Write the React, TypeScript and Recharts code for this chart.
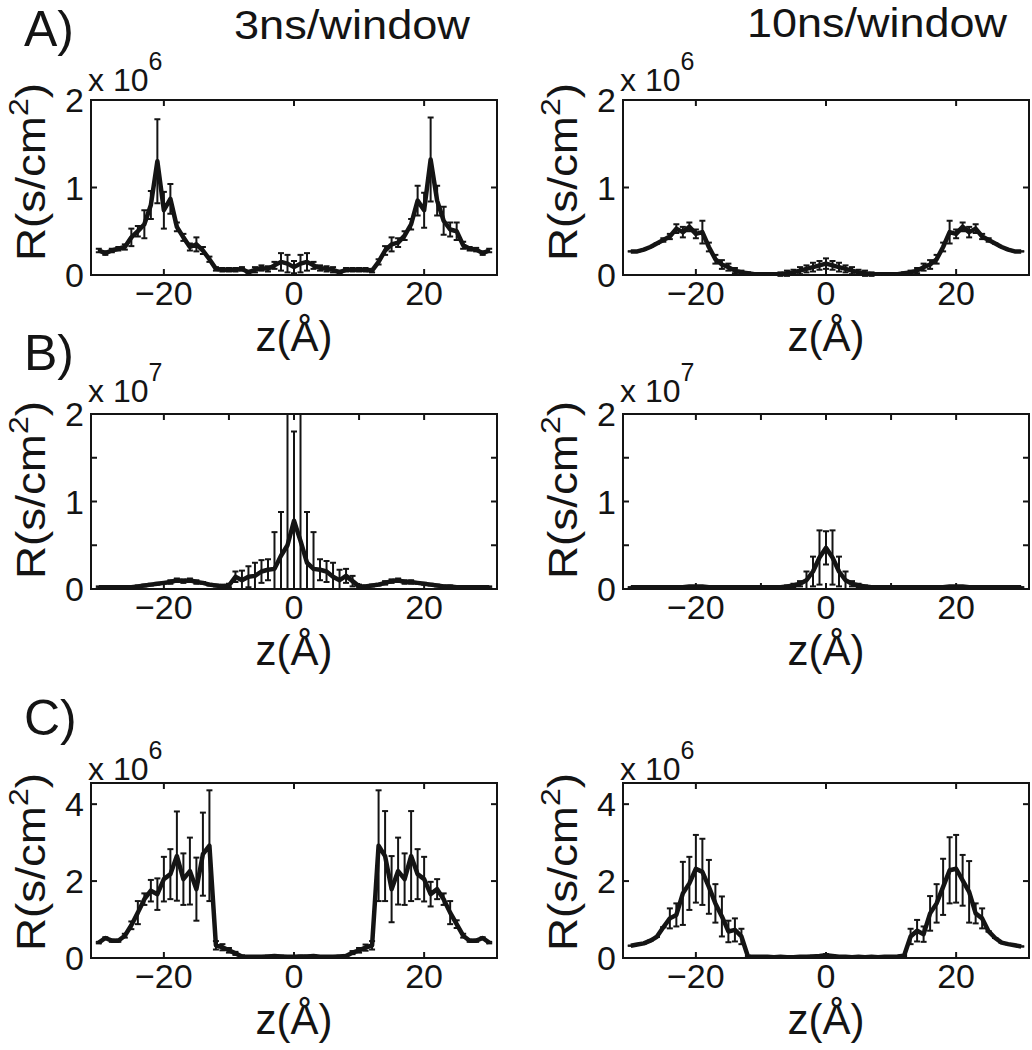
import React from 'react';
import { LineChart, Line, XAxis, YAxis, ErrorBar, ReferenceArea, ReferenceLine } from 'recharts';

const FONT = '"Liberation Sans", Arial, Helvetica, sans-serif';
const INK = '#141414';

// z positions (Å)
const Z = [-30,-29,-28,-27,-26,-25,-24,-23,-22,-21,-20,-19,-18,-17,-16,-15,-14,-13,-12,-11,-10,-9,-8,-7,-6,-5,-4,-3,-2,-1,0,1,2,3,4,5,6,7,8,9,10,11,12,13,14,15,16,17,18,19,20,21,22,23,24,25,26,27,28,29,30];

// A) 3ns/window  (x 10^6)
const A3_R = [0.28,0.25,0.28,0.30,0.32,0.43,0.50,0.58,0.80,1.30,0.74,0.87,0.55,0.43,0.32,0.35,0.28,0.18,0.07,0.06,0.06,0.06,0.07,0.03,0.06,0.08,0.07,0.11,0.15,0.13,0.09,0.13,0.15,0.11,0.08,0.07,0.06,0.03,0.06,0.06,0.06,0.06,0.05,0.15,0.28,0.35,0.37,0.45,0.58,0.85,0.74,1.32,0.85,0.62,0.52,0.50,0.34,0.30,0.29,0.25,0.28];
const A3_E = [0.02,0.02,0.02,0.02,0.03,0.10,0.06,0.16,0.16,0.48,0.21,0.17,0.05,0.04,0.04,0.08,0.04,0.03,0.02,0.02,0.02,0.02,0.02,0.02,0.03,0.03,0.03,0.04,0.10,0.10,0.07,0.10,0.10,0.04,0.03,0.03,0.03,0.02,0.02,0.02,0.02,0.02,0.02,0.03,0.05,0.08,0.05,0.05,0.06,0.17,0.20,0.48,0.17,0.16,0.08,0.10,0.04,0.02,0.02,0.02,0.02];

// A) 10ns/window (x 10^6)
const A10_R = [0.27,0.27,0.29,0.32,0.36,0.40,0.44,0.53,0.49,0.55,0.47,0.49,0.32,0.18,0.12,0.09,0.05,0.03,0.02,0.01,0.01,0.01,0.01,0.01,0.02,0.03,0.05,0.07,0.09,0.11,0.13,0.11,0.09,0.07,0.05,0.03,0.02,0.01,0.01,0.01,0.01,0.01,0.02,0.03,0.05,0.09,0.12,0.18,0.32,0.49,0.47,0.55,0.49,0.53,0.44,0.40,0.36,0.32,0.29,0.27,0.27];
const A10_E = [0,0,0,0,0,0.02,0.03,0.05,0.06,0.05,0.05,0.13,0.05,0.05,0.05,0.04,0.03,0.02,0.01,0.01,0.01,0.01,0.01,0.02,0.03,0.03,0.04,0.04,0.05,0.05,0.06,0.05,0.05,0.04,0.04,0.03,0.03,0.02,0.01,0.01,0.01,0.01,0.01,0.02,0.03,0.04,0.05,0.05,0.05,0.13,0.05,0.05,0.06,0.05,0.03,0.02,0,0,0,0,0];

// B) 3ns/window (x 10^7); error bars as drawn: lower and upper extents
const B3_R = [0.02,0.02,0.02,0.02,0.02,0.02,0.03,0.04,0.05,0.06,0.07,0.08,0.10,0.09,0.10,0.08,0.07,0.05,0.04,0.03,0.04,0.14,0.10,0.14,0.15,0.20,0.22,0.23,0.38,0.50,0.78,0.55,0.30,0.23,0.22,0.20,0.14,0.10,0.15,0.09,0.03,0.03,0.04,0.05,0.07,0.09,0.10,0.08,0.08,0.07,0.06,0.05,0.04,0.03,0.03,0.02,0.02,0.02,0.02,0.02,0.02];
const B3_ELO = [0.01,0.01,0.01,0.01,0.01,0.01,0.01,0.01,0.01,0.01,0.01,0.02,0.02,0.02,0.02,0.02,0.01,0.01,0.01,0.02,0.02,0.06,0.10,0.12,0.15,0.13,0.12,0.23,0.38,0.50,0.78,0.55,0.30,0.23,0.12,0.12,0.14,0.10,0.08,0.06,0.02,0.01,0.01,0.01,0.02,0.02,0.02,0.02,0.02,0.01,0.01,0.01,0.01,0.01,0.01,0.01,0.01,0.01,0.01,0.01,0.01];
const B3_EHI = [0.01,0.01,0.01,0.01,0.01,0.01,0.01,0.01,0.01,0.01,0.01,0.02,0.02,0.02,0.02,0.02,0.01,0.01,0.01,0.02,0.02,0.06,0.11,0.12,0.15,0.13,0.12,0.42,0.50,1.50,1.02,1.45,0.58,0.42,0.12,0.12,0.16,0.12,0.08,0.06,0.02,0.01,0.01,0.01,0.02,0.02,0.02,0.02,0.02,0.01,0.01,0.01,0.01,0.01,0.01,0.01,0.01,0.01,0.01,0.01,0.01];

// B) 10ns/window (x 10^7)
const B10_R = [0.02,0.02,0.02,0.02,0.02,0.02,0.02,0.02,0.02,0.03,0.03,0.03,0.02,0.02,0.02,0.02,0.02,0.02,0.02,0.02,0.02,0.02,0.02,0.02,0.03,0.04,0.06,0.10,0.20,0.36,0.47,0.36,0.20,0.10,0.06,0.04,0.03,0.02,0.02,0.02,0.02,0.02,0.02,0.02,0.02,0.02,0.02,0.02,0.02,0.03,0.03,0.03,0.02,0.02,0.02,0.02,0.02,0.02,0.02,0.02,0.02];
const B10_E = [0,0,0,0,0,0,0,0,0,0,0,0,0,0,0,0,0,0,0,0,0,0,0,0,0.01,0.02,0.03,0.10,0.17,0.31,0.19,0.31,0.17,0.10,0.03,0.02,0.01,0,0,0,0,0,0,0,0,0,0,0,0,0,0,0,0,0,0,0,0,0,0,0,0];

// C) 3ns/window (x 10^6)
const C3_R = [0.40,0.52,0.45,0.45,0.58,0.85,1.18,1.53,1.75,1.66,2.05,2.18,2.65,2.05,2.26,1.79,2.70,2.92,0.33,0.28,0.20,0.12,0.04,0.03,0.03,0.03,0.04,0.05,0.04,0.03,0.03,0.04,0.04,0.05,0.03,0.03,0.03,0.04,0.05,0.14,0.20,0.27,0.33,2.92,2.65,1.79,2.26,2.05,2.65,2.18,2.05,1.66,1.79,1.53,1.18,0.88,0.58,0.45,0.45,0.52,0.40];
const C3_E = [0.02,0.02,0.03,0.03,0.05,0.10,0.30,0.15,0.28,0.41,0.58,0.65,1.16,0.67,0.87,0.82,1.08,1.44,0.11,0.08,0.06,0.04,0.03,0.02,0.02,0.02,0.02,0.02,0.02,0.02,0.02,0.02,0.02,0.02,0.02,0.02,0.02,0.02,0.03,0.04,0.06,0.08,0.11,1.44,1.17,0.86,0.87,0.67,1.17,0.65,0.58,0.32,0.26,0.15,0.30,0.10,0.05,0.03,0.03,0.02,0.02];

// C) 10ns/window (x 10^6)
const C10_R = [0.32,0.35,0.38,0.45,0.55,0.80,1.03,1.12,1.68,1.94,2.32,2.24,1.85,1.42,1.08,0.69,0.73,0.56,0.04,0.03,0.03,0.03,0.02,0.03,0.02,0.02,0.03,0.03,0.04,0.05,0.07,0.05,0.03,0.03,0.02,0.03,0.02,0.03,0.02,0.03,0.03,0.04,0.06,0.56,0.71,0.62,1.16,1.42,1.85,2.28,2.32,2.02,1.72,1.16,1.03,0.69,0.52,0.40,0.36,0.33,0.30];
const C10_E = [0,0,0,0,0,0,0.26,0.30,0.82,0.69,0.88,0.86,0.70,0.50,0.52,0.28,0.30,0.20,0.02,0.01,0.01,0.01,0.01,0.01,0.01,0.01,0.01,0.01,0.02,0.02,0.03,0.02,0.02,0.01,0.01,0.01,0.01,0.01,0.01,0.01,0.01,0.01,0.02,0.20,0.28,0.20,0.45,0.50,0.73,0.86,0.88,0.66,0.80,0.26,0.26,0,0,0,0,0,0];

const X_TICKS_3 = [-20, 0, 20];
const X_TICKS_5 = [-20, -10, 0, 10, 20];
const X_LABELED = [-20, 0, 20];
const Y_TICKS_A = [0, 1, 2];
const Y_TICKS_B = [0, 0.5, 1, 1.5, 2];
const Y_TICKS_C = [0, 2, 4];
const Y_LABELED = [0, 1, 2, 4];

const TITLES = ['3ns/window', '10ns/window'];
const ROW_LABELS = ['A)', 'B)', 'C)'];
const EXPONENTS = ['6', '7', '6'];

const BOX_W = 406;
const BOX_H = 175;
const ML = 70;
const MT = 24;
const MR = 3;
const XH = 60;
const XDOM: [number, number] = [-31.2, 31.2];
const TICK_PX = 6;

const fmtX = (v: number) => (X_LABELED.includes(v) ? (v < 0 ? '\u2212' + Math.abs(v) : String(v)) : '');
const fmtY = (v: number) => (Y_LABELED.includes(v) ? String(v) : '');

type PanelProps = {
  left: number;
  top: number;
  r: number[];
  lo: number[];
  hi: number[];
  yMax: number;
  yTicks: number[];
  xTicks: number[];
};

function Panel({ left, top, r, lo, hi, yMax, yTicks, xTicks }: PanelProps) {
  const data = Z.map((z, i) => ({ z, r: r[i], e: [lo[i], hi[i]] }));
  const tickStyle = { fontSize: 34, fill: INK, fontFamily: FONT };
  const dy = (TICK_PX * yMax) / BOX_H;
  const dx = (TICK_PX * (XDOM[1] - XDOM[0])) / BOX_W;
  const innerY = yTicks.filter((t) => t > 0 && t < yMax);
  return (
    <div style={{ position: 'absolute', left: left - ML, top: top - MT }}>
      <LineChart
        width={ML + BOX_W + MR}
        height={MT + BOX_H + XH}
        data={data}
        margin={{ top: MT, right: MR, bottom: 0, left: 0 }}
      >
        <XAxis
          xAxisId="b"
          dataKey="z"
          type="number"
          domain={XDOM}
          allowDataOverflow
          ticks={xTicks}
          interval={0}
          tickFormatter={fmtX}
          height={XH}
          tickSize={0}
          tickMargin={6}
          axisLine={false}
          tickLine={false}
          tick={tickStyle}
        />
        <YAxis
          yAxisId="l"
          type="number"
          domain={[0, yMax]}
          allowDataOverflow
          ticks={yTicks}
          interval={0}
          tickFormatter={fmtY}
          width={ML}
          tickSize={0}
          tickMargin={7}
          axisLine={false}
          tickLine={false}
          tick={tickStyle}
        />
        <ReferenceArea
          xAxisId="b"
          yAxisId="l"
          x1={XDOM[0]}
          x2={XDOM[1]}
          y1={0}
          y2={yMax}
          fill="none"
          fillOpacity={0}
          stroke={INK}
          strokeWidth={2}
          ifOverflow="visible"
        />
        {xTicks.map((t) => (
          <ReferenceLine key={`xb${t}`} xAxisId="b" yAxisId="l" segment={[{ x: t, y: 0 }, { x: t, y: dy }]} stroke={INK} strokeWidth={2} ifOverflow="visible" />
        ))}
        {xTicks.map((t) => (
          <ReferenceLine key={`xt${t}`} xAxisId="b" yAxisId="l" segment={[{ x: t, y: yMax }, { x: t, y: yMax - dy }]} stroke={INK} strokeWidth={2} ifOverflow="visible" />
        ))}
        {innerY.map((t) => (
          <ReferenceLine key={`yl${t}`} xAxisId="b" yAxisId="l" segment={[{ x: XDOM[0], y: t }, { x: XDOM[0] + dx, y: t }]} stroke={INK} strokeWidth={2} ifOverflow="visible" />
        ))}
        {innerY.map((t) => (
          <ReferenceLine key={`yr${t}`} xAxisId="b" yAxisId="l" segment={[{ x: XDOM[1], y: t }, { x: XDOM[1] - dx, y: t }]} stroke={INK} strokeWidth={2} ifOverflow="visible" />
        ))}
        <Line
          xAxisId="b"
          yAxisId="l"
          type="linear"
          dataKey="r"
          stroke={INK}
          strokeWidth={4.5}
          strokeLinejoin="round"
          dot={false}
          activeDot={false}
          isAnimationActive={false}
        >
          <ErrorBar dataKey="e" direction="y" width={3} strokeWidth={2} stroke={INK} />
        </Line>
      </LineChart>
    </div>
  );
}

const COL_LEFT = [91, 623];
const ROW_TOP = [100, 414, 783];
const ROW_LABEL_Y = [46, 370, 735];
const EXP_BASE = [91, 402, 780];
const YLABEL_CY = [172, 490, 862];

export default function App() {
  const panels = [
    { r: A3_R, lo: A3_E, hi: A3_E, yMax: 2, yTicks: Y_TICKS_A, xTicks: X_TICKS_3 },
    { r: A10_R, lo: A10_E, hi: A10_E, yMax: 2, yTicks: Y_TICKS_A, xTicks: X_TICKS_3 },
    { r: B3_R, lo: B3_ELO, hi: B3_EHI, yMax: 2, yTicks: Y_TICKS_B, xTicks: X_TICKS_5 },
    { r: B10_R, lo: B10_E, hi: B10_E, yMax: 2, yTicks: Y_TICKS_B, xTicks: X_TICKS_5 },
    { r: C3_R, lo: C3_E, hi: C3_E, yMax: 4.55, yTicks: Y_TICKS_C, xTicks: X_TICKS_3 },
    { r: C10_R, lo: C10_E, hi: C10_E, yMax: 4.55, yTicks: Y_TICKS_C, xTicks: X_TICKS_3 },
  ];
  return (
    <div style={{ position: 'absolute', left: 0, top: 0, width: 1032, height: 1050, background: '#fff', fontFamily: FONT }}>
      {panels.map((p, i) => (
        <Panel key={i} left={COL_LEFT[i % 2]} top={ROW_TOP[Math.floor(i / 2)]} {...p} />
      ))}
      <svg width={1032} height={1050} style={{ position: 'absolute', left: 0, top: 0, pointerEvents: 'none' }}>
        <g fontFamily={FONT} fill={INK}>
          <text x={352} y={39} fontSize={40} textAnchor="middle" textLength={236} lengthAdjust="spacingAndGlyphs">{TITLES[0]}</text>
          <text x={877} y={37} fontSize={40} textAnchor="middle" textLength={260} lengthAdjust="spacingAndGlyphs">{TITLES[1]}</text>
          {ROW_LABELS.map((t, ri) => (
            <text key={t} x={24} y={ROW_LABEL_Y[ri]} fontSize={50}>{t}</text>
          ))}
          {ROW_TOP.map((rt, ri) =>
            COL_LEFT.map((cl, ci) => (
              <g key={`${ri}-${ci}`}>
                <text x={cl - 3} y={EXP_BASE[ri]} fontSize={32}>
                  x 10<tspan dy={-21} fontSize={25}>{EXPONENTS[ri]}</tspan>
                </text>
                <text
                  transform={`translate(${cl - 46}, ${YLABEL_CY[ri]}) rotate(-90)`}
                  fontSize={40}
                  textAnchor="middle"
                  textLength={178}
                  lengthAdjust="spacingAndGlyphs"
                >
                  R(s/cm<tspan dy={-17} fontSize={28}>2</tspan><tspan dy={17}>)</tspan>
                </text>
                <text x={cl + BOX_W / 2} y={rt + BOX_H + 76} fontSize={42} textAnchor="middle">z(Å)</text>
              </g>
            ))
          )}
        </g>
      </svg>
    </div>
  );
}
